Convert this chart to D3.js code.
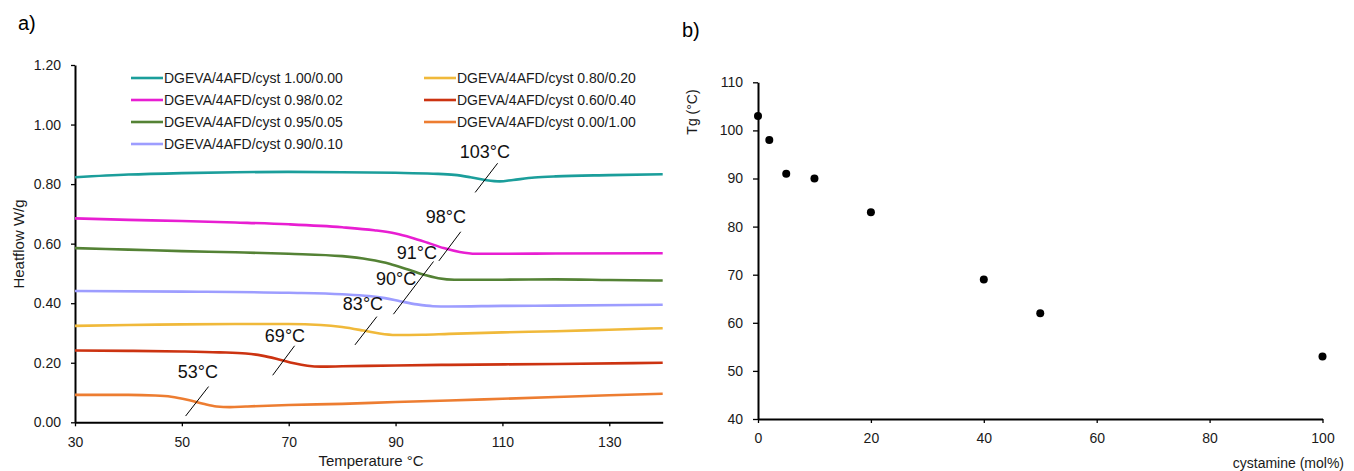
<!DOCTYPE html>
<html>
<head>
<meta charset="utf-8">
<script src="https://cdn.jsdelivr.net/npm/d3@7"></script>
<style>
  body { margin: 0; background: #fff; }
  svg { display: block; font-family: "Liberation Sans", Arial, sans-serif; }
  .axis .domain { stroke: #000; stroke-width: 2px; }
  .axis .tick line { stroke: #000; stroke-width: 1.3px; }
  .axis .tick text { font-size: 14px; fill: #1a1a1a; }
</style>
</head>
<body>
<div id="chart"></div>
<script>
// DSC curves, temperature (°C) vs heat flow (W/g)
const seriesNames = [
    "DGEVA/4AFD/cyst 1.00/0.00",
    "DGEVA/4AFD/cyst 0.98/0.02",
    "DGEVA/4AFD/cyst 0.95/0.05",
    "DGEVA/4AFD/cyst 0.90/0.10",
    "DGEVA/4AFD/cyst 0.80/0.20",
    "DGEVA/4AFD/cyst 0.60/0.40",
    "DGEVA/4AFD/cyst 0.00/1.00"
];
const seriesColors = ["#1b9e9b", "#e81ed2", "#548235", "#9d9dff", "#f0b93a", "#cc3311", "#ed7d31"];

const curve100 = [[30, .823], [40, .832], [50, .837], [60, .840], [70, .841], [80, .840], [90, .838], [97, .835], [101, .831], [104, .823], [107, .813], [109.5, .809], [112, .814], [116, .822], [120, .826], [130, .830], [140, .833]];
const curve098 = [[30, .685], [40, .680], [50, .676], [60, .671], [70, .665], [80, .655], [86, .645], [90, .634], [93, .620], [96, .603], [99, .585], [102, .572], [105, .566], [110, .566], [120, .567], [140, .568]];
const curve095 = [[30, .585], [40, .580], [50, .575], [60, .571], [70, .566], [80, .558], [85, .547], [89, .532], [92, .515], [95, .497], [98, .484], [101, .479], [110, .479], [120, .480], [130, .478], [140, .476]];
const curve090 = [[30, .441], [50, .439], [70, .435], [80, .430], [85, .424], [88, .417], [91, .406], [94, .396], [97, .390], [100, .389], [110, .391], [120, .392], [140, .395]];
const curve080 = [[30, .324], [40, .327], [50, .329], [60, .330], [70, .330], [76, .327], [80, .320], [84, .308], [87, .298], [90, .293], [95, .294], [100, .297], [110, .302], [120, .306], [130, .311], [140, .316]];
const curve060 = [[30, .241], [40, .240], [50, .238], [57, .235], [62, .231], [65, .224], [68, .212], [71, .198], [73.5, .190], [76, .187], [80, .188], [90, .191], [100, .193], [120, .196], [140, .200]];
const curve000 = [[30, .092], [40, .092], [45, .090], [48, .086], [51, .076], [54, .062], [56.5, .053], [59, .051], [62, .053], [70, .058], [80, .062], [90, .068], [100, .073], [110, .079], [120, .085], [130, .091], [140, .096]];
const curves = [curve100, curve098, curve095, curve090, curve080, curve060, curve000];

const tempTicks = [30, 50, 70, 90, 110, 130];
const heatTicks = [0, 0.2, 0.4, 0.6, 0.8, 1.0, 1.2];

// Tg labels on the DSC plot: text anchor and leader line, in data units
const tgLabels = ["103°C", "98°C", "91°C", "90°C", "83°C", "69°C", "53°C"];
const tgLabelAt = [[106.7, .888], [99.4, .669], [94.0, .548], [90.1, .461], [83.9, .377], [69.3, .270], [53.0, .150]];
const tgLeaders = [
    [[104.9, .772], [109.1, .870]],
    [[98.1, .542], [102.2, .640]],
    [[89.6, .363], [97.1, .540]],
    null,
    [[82.4, .260], [86.5, .355]],
    [[67.0, .158], [71.1, .257]],
    [[50.7, .021], [55.0, .120]]
];

// Tg vs cystamine content
const cystamine = [0, 2, 5, 10, 20, 40, 50, 100];
const tg = [103, 98, 91, 90, 83, 69, 62, 53];
const cystTicks = [0, 20, 40, 60, 80, 100];
const tgTicks = [40, 50, 60, 70, 80, 90, 100, 110];

const width = 1354, height = 471;

const svg = d3.select("#chart")
    .append("svg")
    .attr("width", width)
    .attr("height", height);

// ---------- panel a ----------
const xA = d3.scaleLinear().domain([30, 140]).range([75, 662.7]);
const yA = d3.scaleLinear().domain([0, 1.2]).range([422.3, 65]);

svg.append("text").attr("x", 18).attr("y", 30).style("font-size", "20px").text("a)");

svg.append("g")
    .attr("class", "axis")
    .attr("transform", `translate(0,${yA(0)})`)
    .call(d3.axisBottom(xA).tickValues(tempTicks).tickSize(4).tickSizeOuter(0).tickPadding(10.5));

svg.append("g")
    .attr("class", "axis")
    .attr("transform", `translate(${xA(30)},0)`)
    .call(d3.axisLeft(yA).tickValues(heatTicks).tickFormat(d3.format(".2f")).tickSize(4).tickSizeOuter(0).tickPadding(10));

const line = d3.line()
    .x(d => xA(d[0]))
    .y(d => yA(d[1]))
    .curve(d3.curveMonotoneX);

svg.selectAll(".dsc")
    .data(curves)
    .join("path")
    .attr("class", "dsc")
    .attr("d", line)
    .attr("fill", "none")
    .attr("stroke", (d, i) => seriesColors[i])
    .attr("stroke-width", 2.6);

// leader lines + labels
svg.selectAll(".leader")
    .data(tgLeaders.filter(d => d))
    .join("line")
    .attr("class", "leader")
    .attr("x1", d => xA(d[0][0]))
    .attr("y1", d => yA(d[0][1]))
    .attr("x2", d => xA(d[1][0]))
    .attr("y2", d => yA(d[1][1]))
    .attr("stroke", "#000")
    .attr("stroke-width", 1);

svg.selectAll(".tglabel")
    .data(tgLabels)
    .join("text")
    .attr("class", "tglabel")
    .attr("x", (d, i) => xA(tgLabelAt[i][0]))
    .attr("y", (d, i) => yA(tgLabelAt[i][1]))
    .attr("text-anchor", "middle")
    .style("font-size", "18px")
    .style("fill", "#111")
    .text(d => d);

// legend, two columns
const legend = svg.append("g");
const legendItems = legend.selectAll("g")
    .data(seriesNames)
    .join("g")
    .attr("transform", (d, i) => {
        const col = i < 4 ? 0 : 1;
        const row = i < 4 ? i : i - 4;
        return `translate(${col === 0 ? 131 : 424},${78 + row * 22})`;
    });
legendItems.append("line")
    .attr("x1", 0).attr("x2", 32)
    .attr("stroke", (d, i) => seriesColors[i])
    .attr("stroke-width", 2.6);
legendItems.append("text")
    .attr("x", 33)
    .attr("dy", "0.35em")
    .style("font-size", "14px")
    .style("fill", "#1a1a1a")
    .text(d => d);

svg.append("text")
    .attr("transform", `translate(24,244) rotate(-90)`)
    .attr("text-anchor", "middle")
    .style("font-size", "15px")
    .style("fill", "#1a1a1a")
    .text("Heatflow W/g");

svg.append("text")
    .attr("x", 371)
    .attr("y", 466)
    .attr("text-anchor", "middle")
    .style("font-size", "15px")
    .style("fill", "#1a1a1a")
    .text("Temperature °C");

// ---------- panel b ----------
const xB = d3.scaleLinear().domain([0, 100]).range([758, 1322.5]);
const yB = d3.scaleLinear().domain([40, 110]).range([419, 82.3]);

svg.append("text").attr("x", 682).attr("y", 37).style("font-size", "20px").text("b)");

svg.append("g")
    .attr("class", "axis")
    .attr("transform", `translate(0,${yB(40)})`)
    .call(d3.axisBottom(xB).tickValues(cystTicks).tickSize(4).tickSizeOuter(0).tickPadding(10.5));

svg.append("g")
    .attr("class", "axis")
    .attr("transform", `translate(${xB(0)},0)`)
    .call(d3.axisLeft(yB).tickValues(tgTicks).tickSize(5).tickSizeOuter(0).tickPadding(10));

svg.selectAll(".tgdot")
    .data(cystamine)
    .join("circle")
    .attr("class", "tgdot")
    .attr("cx", d => xB(d))
    .attr("cy", (d, i) => yB(tg[i]))
    .attr("r", 4)
    .attr("fill", "#000");

svg.append("text")
    .attr("transform", `translate(697,112) rotate(-90)`)
    .attr("text-anchor", "middle")
    .style("font-size", "14px")
    .style("fill", "#1a1a1a")
    .text("Tg (°C)");

svg.append("text")
    .attr("x", 1344)
    .attr("y", 468)
    .attr("text-anchor", "end")
    .style("font-size", "14px")
    .style("fill", "#1a1a1a")
    .text("cystamine (mol%)");
</script>
</body>
</html>
